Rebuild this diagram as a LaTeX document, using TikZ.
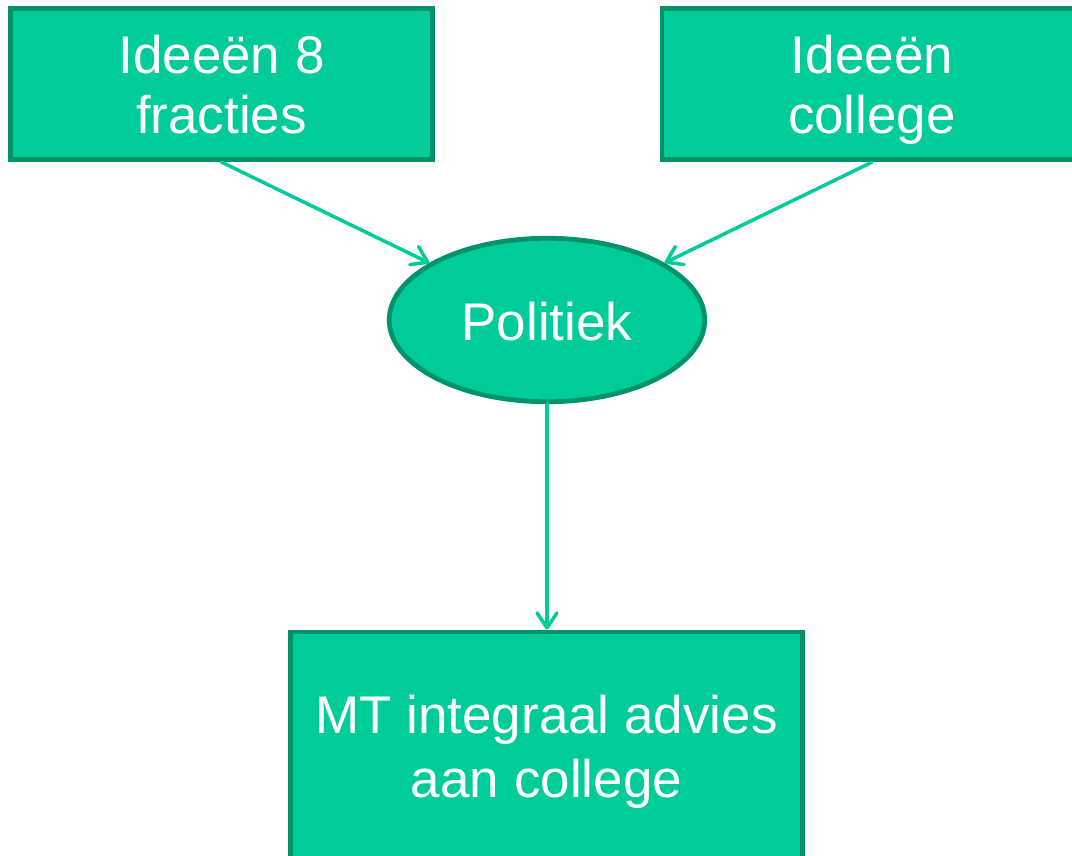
\documentclass[tikz,border=0pt]{standalone}
\usepackage{fontspec}
\setmainfont{Liberation Sans}
\usetikzlibrary{shapes.geometric,arrows.meta}
\definecolor{fillg}{HTML}{00CC99}
\definecolor{edgeg}{HTML}{00936A}
\begin{document}
\begin{tikzpicture}[x=1pt,y=-1pt,
  shapebase/.style={draw=edgeg,fill=fillg,line width=4.8pt,text=white,
    align=center,inner sep=0pt},
  topbox/.style={shapebase,rectangle,font=\fontsize{53}{60}\selectfont,
    text height=100pt,text depth=2pt},
  lowbox/.style={shapebase,rectangle,font=\fontsize{53}{64}\selectfont,
    text height=110pt,text depth=12pt},
  oval/.style={shapebase,ellipse,font=\fontsize{53}{60}\selectfont,
    text height=41.4pt,text depth=0pt},
  conn/.style={draw=fillg,line width=3.5pt,line cap=round,
    -{Straight Barb[length=15pt,width=20pt,line cap=round,line join=round]}}]
\useasboundingbox (0,0) rectangle (1072,855);
\clip (0,0) rectangle (1072,855);
\node[topbox,minimum width=422.5pt,minimum height=151.5pt] (a) at (221.5,84) {Ideeën 8\\fracties};
\node[topbox,minimum width=420pt,minimum height=151.5pt] (b) at (872,84) {Ideeën\\college};
\node[oval,minimum width=315.5pt,minimum height=163.5pt] (p) at (547,320) {Politiek};
\node[lowbox,minimum width=512.5pt,minimum height=232pt] (c) at (546.5,748) {MT integraal advies\\aan college};
\draw[conn] (a.south) -- (p);
\draw[conn] (b.south) -- (p);
\draw[conn] (p.south) -- (p.south |- c.north);
\end{tikzpicture}
\end{document}
